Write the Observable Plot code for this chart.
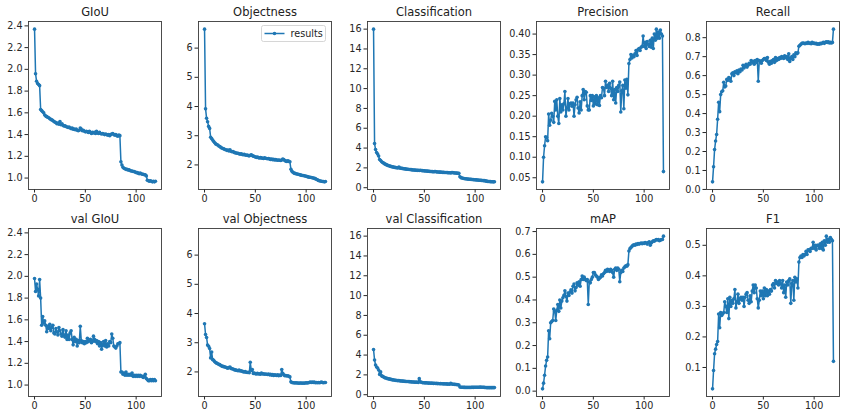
<!DOCTYPE html>
<html><head><meta charset="utf-8">
<script src="https://cdn.jsdelivr.net/npm/d3@7"></script>
<script src="https://cdn.jsdelivr.net/npm/@observablehq/plot@0.6"></script>
<style>
body{margin:0;background:#fff;}
#fig{position:relative;width:851px;height:418px;overflow:hidden;font-family:"DejaVu Sans",sans-serif;background:#fff;}
#fig svg{position:absolute;}
</style></head><body><div id="fig"></div>
<script>
const giou=[2.37,1.96,1.89,1.87,1.86,1.85,1.63,1.62,1.61,1.60,
 1.58,1.57,1.565,1.56,1.555,1.545,1.54,1.535,1.53,1.52,
 1.515,1.51,1.50,1.505,1.495,1.52,1.49,1.50,1.485,1.48,
 1.48,1.475,1.47,1.465,1.47,1.46,1.455,1.46,1.45,1.45,
 1.445,1.45,1.44,1.435,1.44,1.46,1.45,1.435,1.44,1.43,
 1.425,1.43,1.425,1.42,1.43,1.42,1.41,1.42,1.415,1.42,
 1.41,1.43,1.415,1.41,1.42,1.41,1.405,1.41,1.405,1.40,
 1.405,1.40,1.395,1.40,1.39,1.40,1.405,1.41,1.40,1.395,
 1.40,1.39,1.385,1.395,1.39,1.15,1.12,1.10,1.09,1.085,
 1.08,1.08,1.075,1.075,1.07,1.065,1.065,1.06,1.06,1.055,
 1.05,1.05,1.045,1.04,1.045,1.04,1.035,1.035,1.03,1.03,
 1.02,0.98,0.975,0.97,0.975,0.97,0.965,0.97,0.965,0.97];
const valGiou=[1.98,1.86,1.93,1.88,1.82,1.97,1.80,1.55,1.63,1.57,
 1.59,1.55,1.49,1.54,1.52,1.56,1.50,1.53,1.55,1.48,
 1.47,1.52,1.49,1.46,1.53,1.50,1.47,1.45,1.51,1.46,
 1.44,1.50,1.42,1.46,1.42,1.48,1.50,1.42,1.37,1.44,
 1.40,1.42,1.36,1.41,1.39,1.54,1.41,1.39,1.40,1.38,
 1.40,1.39,1.43,1.40,1.41,1.42,1.39,1.40,1.45,1.42,
 1.40,1.41,1.38,1.40,1.36,1.39,1.33,1.37,1.40,1.36,
 1.41,1.35,1.38,1.36,1.40,1.39,1.47,1.43,1.36,1.35,
 1.34,1.36,1.38,1.38,1.39,1.12,1.12,1.10,1.11,1.09,
 1.12,1.09,1.10,1.09,1.10,1.09,1.11,1.08,1.09,1.08,
 1.09,1.08,1.09,1.08,1.09,1.08,1.08,1.07,1.08,1.10,
 1.06,1.05,1.04,1.04,1.05,1.04,1.05,1.04,1.05,1.04];
const objectness=[6.65,3.92,3.60,3.48,3.32,3.25,2.95,2.90,2.85,2.80,
 2.76,2.72,2.70,2.68,2.65,2.63,2.60,2.58,2.56,2.55,
 2.53,2.52,2.50,2.51,2.48,2.52,2.47,2.45,2.46,2.43,
 2.42,2.41,2.40,2.40,2.38,2.37,2.38,2.36,2.35,2.36,
 2.34,2.33,2.34,2.32,2.31,2.33,2.35,2.32,2.30,2.29,
 2.27,2.26,2.27,2.25,2.24,2.25,2.24,2.23,2.22,2.24,
 2.23,2.22,2.21,2.22,2.20,2.19,2.20,2.18,2.19,2.17,
 2.18,2.17,2.16,2.17,2.16,2.15,2.17,2.20,2.18,2.15,
 2.13,2.12,2.14,2.12,2.11,1.85,1.78,1.75,1.72,1.71,
 1.70,1.69,1.68,1.67,1.66,1.65,1.64,1.64,1.63,1.62,
 1.61,1.60,1.59,1.58,1.58,1.57,1.56,1.55,1.54,1.53,
 1.51,1.49,1.47,1.46,1.45,1.44,1.43,1.43,1.42,1.43];
const valObjectness=[3.65,3.28,3.18,2.92,2.88,2.80,2.48,2.68,2.42,2.40,
 2.35,2.32,2.30,2.28,2.26,2.25,2.22,2.20,2.19,2.18,
 2.17,2.16,2.14,2.13,2.15,2.17,2.12,2.11,2.10,2.08,
 2.07,2.06,2.05,2.04,2.06,2.03,2.04,2.02,2.01,2.00,
 2.01,1.99,1.98,1.99,1.97,2.33,2.05,2.08,1.95,1.96,
 1.94,1.93,1.95,1.93,1.94,1.92,1.96,1.93,1.94,1.92,
 1.93,1.92,1.91,1.93,1.90,1.92,1.89,1.91,1.88,1.90,
 1.89,1.88,1.90,1.87,1.89,1.88,2.08,1.95,1.90,1.87,
 1.88,1.86,1.87,1.85,1.83,1.66,1.64,1.63,1.63,1.62,
 1.63,1.62,1.62,1.61,1.62,1.62,1.61,1.62,1.61,1.62,
 1.63,1.62,1.63,1.64,1.65,1.64,1.65,1.64,1.65,1.63,
 1.64,1.63,1.64,1.63,1.64,1.65,1.64,1.63,1.64,1.64];
const classification=[16.0,4.45,3.85,3.55,3.40,3.20,2.85,2.75,2.62,2.55,
 2.48,2.40,2.35,2.30,2.25,2.22,2.18,2.15,2.12,2.10,
 2.07,2.05,2.03,2.01,2.00,2.08,1.98,1.96,1.95,1.93,
 1.92,1.90,1.88,1.87,1.86,1.84,1.83,1.82,1.80,1.79,
 1.78,1.77,1.76,1.75,1.76,1.74,1.76,1.73,1.72,1.71,
 1.70,1.69,1.68,1.67,1.66,1.65,1.64,1.63,1.62,1.61,
 1.62,1.63,1.60,1.59,1.58,1.57,1.57,1.56,1.55,1.55,
 1.54,1.53,1.53,1.52,1.51,1.51,1.50,1.52,1.53,1.50,
 1.49,1.48,1.47,1.46,1.45,1.10,1.02,0.98,0.95,0.93,
 0.91,0.90,0.88,0.87,0.86,0.85,0.84,0.83,0.82,0.81,
 0.80,0.79,0.78,0.77,0.76,0.75,0.74,0.73,0.72,0.71,
 0.69,0.66,0.64,0.63,0.62,0.61,0.60,0.60,0.59,0.60];
const valClassification=[4.55,3.50,3.00,2.80,2.70,2.50,2.05,2.30,1.90,1.85,
 1.78,1.72,1.68,1.65,1.62,1.60,1.57,1.55,1.52,1.50,
 1.48,1.46,1.45,1.43,1.42,1.44,1.40,1.39,1.38,1.37,
 1.36,1.35,1.34,1.33,1.34,1.32,1.31,1.30,1.29,1.28,
 1.27,1.26,1.27,1.25,1.24,1.62,1.30,1.26,1.22,1.21,
 1.20,1.19,1.20,1.18,1.17,1.18,1.16,1.17,1.15,1.14,
 1.15,1.13,1.14,1.12,1.13,1.11,1.12,1.10,1.11,1.09,
 1.10,1.08,1.09,1.07,1.08,1.06,1.15,1.08,1.05,1.06,
 1.04,1.03,1.02,1.00,0.98,0.78,0.76,0.75,0.75,0.74,
 0.74,0.73,0.74,0.73,0.74,0.73,0.74,0.75,0.74,0.75,
 0.76,0.75,0.76,0.75,0.76,0.77,0.76,0.75,0.76,0.74,
 0.73,0.72,0.72,0.71,0.72,0.71,0.72,0.71,0.72,0.72];
const precision=[0.04,0.10,0.128,0.15,0.148,0.14,0.205,0.178,0.19,0.207,
 0.20,0.185,0.236,0.215,0.24,0.20,0.182,0.243,0.21,0.228,
 0.215,0.23,0.26,0.20,0.22,0.243,0.215,0.23,0.232,0.224,
 0.232,0.20,0.228,0.24,0.246,0.22,0.208,0.235,0.215,0.25,
 0.265,0.24,0.26,0.258,0.225,0.215,0.215,0.25,0.238,0.25,
 0.225,0.247,0.23,0.25,0.228,0.245,0.226,0.25,0.245,0.27,
 0.268,0.25,0.285,0.27,0.275,0.26,0.28,0.268,0.25,0.285,
 0.24,0.265,0.232,0.27,0.26,0.275,0.283,0.21,0.262,0.275,
 0.218,0.288,0.268,0.29,0.252,0.328,0.338,0.35,0.342,0.348,
 0.345,0.352,0.36,0.348,0.362,0.365,0.36,0.368,0.37,0.395,
 0.37,0.38,0.365,0.382,0.375,0.37,0.385,0.368,0.39,0.365,
 0.40,0.385,0.412,0.39,0.405,0.39,0.41,0.40,0.395,0.065];
const recall=[0.04,0.12,0.21,0.255,0.29,0.37,0.46,0.41,0.50,0.515,
 0.52,0.565,0.54,0.545,0.58,0.575,0.59,0.585,0.57,0.61,
 0.615,0.60,0.62,0.615,0.625,0.61,0.63,0.62,0.635,0.63,
 0.655,0.64,0.65,0.66,0.645,0.655,0.665,0.66,0.68,0.67,
 0.675,0.66,0.68,0.67,0.685,0.57,0.68,0.675,0.665,0.68,
 0.685,0.69,0.69,0.68,0.695,0.67,0.66,0.675,0.665,0.68,
 0.685,0.67,0.695,0.68,0.69,0.685,0.695,0.69,0.70,0.695,
 0.69,0.705,0.695,0.70,0.685,0.715,0.675,0.69,0.70,0.685,
 0.71,0.70,0.72,0.715,0.72,0.755,0.76,0.765,0.77,0.772,
 0.77,0.768,0.772,0.77,0.775,0.77,0.772,0.768,0.775,0.77,
 0.772,0.768,0.77,0.765,0.768,0.765,0.77,0.768,0.772,0.775,
 0.77,0.775,0.778,0.775,0.778,0.772,0.775,0.772,0.775,0.845];
const mAP=[0.01,0.035,0.07,0.11,0.135,0.15,0.265,0.23,0.30,0.305,
 0.31,0.36,0.35,0.31,0.355,0.38,0.35,0.40,0.365,0.395,
 0.41,0.42,0.44,0.415,0.395,0.43,0.42,0.435,0.445,0.43,
 0.46,0.47,0.44,0.455,0.475,0.465,0.48,0.46,0.49,0.505,
 0.49,0.50,0.49,0.485,0.49,0.38,0.48,0.475,0.49,0.50,
 0.52,0.52,0.51,0.505,0.50,0.49,0.495,0.50,0.51,0.505,
 0.515,0.52,0.53,0.525,0.535,0.53,0.525,0.535,0.53,0.52,
 0.50,0.535,0.54,0.53,0.54,0.535,0.48,0.52,0.53,0.525,
 0.54,0.545,0.55,0.548,0.555,0.615,0.625,0.63,0.635,0.64,
 0.642,0.64,0.645,0.643,0.648,0.645,0.648,0.65,0.647,0.65,
 0.648,0.652,0.65,0.645,0.652,0.655,0.64,0.65,0.655,0.66,
 0.658,0.662,0.665,0.663,0.665,0.66,0.662,0.665,0.665,0.68];
const f1=[0.03,0.09,0.145,0.16,0.175,0.185,0.275,0.23,0.28,0.27,
 0.275,0.28,0.315,0.30,0.28,0.325,0.26,0.33,0.30,0.32,
 0.31,0.325,0.355,0.295,0.315,0.34,0.31,0.325,0.33,0.32,
 0.33,0.30,0.33,0.34,0.345,0.32,0.31,0.335,0.315,0.35,
 0.37,0.345,0.37,0.36,0.325,0.295,0.32,0.35,0.335,0.35,
 0.325,0.36,0.335,0.355,0.335,0.35,0.34,0.355,0.35,0.37,
 0.375,0.36,0.385,0.375,0.38,0.37,0.385,0.375,0.36,0.385,
 0.345,0.37,0.33,0.38,0.37,0.385,0.39,0.31,0.375,0.385,
 0.32,0.395,0.38,0.39,0.36,0.445,0.46,0.465,0.46,0.47,
 0.465,0.47,0.48,0.47,0.485,0.485,0.48,0.49,0.49,0.51,
 0.49,0.50,0.485,0.50,0.50,0.49,0.505,0.49,0.51,0.485,
 0.515,0.50,0.53,0.51,0.52,0.51,0.525,0.52,0.515,0.12];

const titles=["GIoU","Objectness","Classification","Precision","Recall",
              "val GIoU","val Objectness","val Classification","mAP","F1"];
const xTicks=[0,50,100];
const yTicksGiou=[1.0,1.2,1.4,1.6,1.8,2.0,2.2,2.4];
const yTicksObj=[2,3,4,5,6];
const yTicksCls=[0,2,4,6,8,10,12,14,16];
const yTicksPrec=[0.05,0.10,0.15,0.20,0.25,0.30,0.35,0.40];
const yTicksRecall=[0,0.1,0.2,0.3,0.4,0.5,0.6,0.7,0.8];
const yTicksMap=[0,0.1,0.2,0.3,0.4,0.5,0.6,0.7];
const yTicksF1=[0.1,0.2,0.3,0.4,0.5];
const legendLabel="results";

const panels=[
 {t:0,v:giou,share:valGiou,ticks:yTicksGiou,fmt:".1f"},
 {t:1,v:objectness,share:valObjectness,ticks:yTicksObj,fmt:"d",legend:true},
 {t:2,v:classification,share:valClassification,ticks:yTicksCls,fmt:"d"},
 {t:3,v:precision,share:null,ticks:yTicksPrec,fmt:".2f"},
 {t:4,v:recall,share:null,ticks:yTicksRecall,fmt:".1f"},
 {t:5,v:valGiou,share:giou,ticks:yTicksGiou,fmt:".1f"},
 {t:6,v:valObjectness,share:objectness,ticks:yTicksObj,fmt:"d"},
 {t:7,v:valClassification,share:classification,ticks:yTicksCls,fmt:"d"},
 {t:8,v:mAP,share:null,ticks:yTicksMap,fmt:".1f"},
 {t:9,v:f1,share:null,ticks:yTicksF1,fmt:".1f"}
];

const frameLefts=[28,198,367,536,706];
const frameTops=[20.5,228];
const frameW=133, frameH=168;
const mL=34,mR=6,mT=22,mB=22;
const blue="#1f77b4";
const fig=document.getElementById("fig");

panels.forEach((p,k)=>{
  const col=k%5,row=Math.floor(k/5);
  const all=p.share?p.v.concat(p.share):p.v;
  const [lo,hi]=d3.extent(all); const pad=(hi-lo)*0.05;
  const data=p.v.map((v,i)=>({epoch:i,value:v}));
  const [x0,x1]=d3.extent(data,d=>d.epoch); const xp=(x1-x0)*0.05;
  const svg=Plot.plot({
    width:mL+frameW+mR, height:mT+frameH+mB,
    marginLeft:mL,marginRight:mR,marginTop:mT,marginBottom:mB,
    style:{fontFamily:"DejaVu Sans, sans-serif",fontSize:"9.6px",color:"#262626",background:"transparent",overflow:"visible"},
    x:{domain:[x0-xp,x1+xp],ticks:xTicks,tickSize:3.5,tickPadding:2.5,label:null,tickFormat:d3.format("d")},
    y:{domain:[lo-pad,hi+pad],ticks:p.ticks,tickFormat:d3.format(p.fmt),tickSize:3.5,tickPadding:2.5,label:null},
    marks:[
      Plot.line(data,{x:"epoch",y:"value",stroke:blue,strokeWidth:1.5}),
      Plot.dot(data,{x:"epoch",y:"value",fill:blue,stroke:"none",r:1.8}),
      Plot.frame({stroke:"#3a3a3a",strokeWidth:0.9}),
      Plot.text([titles[p.t]],{frameAnchor:"top",dy:-9,fontSize:11.5,fill:"#222",lineAnchor:"middle"})
    ]
  });
  svg.style.left=(frameLefts[col]-mL)+"px";
  svg.style.top=(frameTops[row]-mT)+"px";
  fig.appendChild(svg);
  if(p.legend){
    const s=d3.select(svg);
    const bw=64,bh=16;
    const bx=mL+frameW-5.5-bw, by=mT+4.5;
    const g=s.append("g");
    g.append("rect").attr("x",bx).attr("y",by).attr("width",bw).attr("height",bh)
      .attr("rx",2).attr("fill","#fff").attr("fill-opacity",0.85).attr("stroke","#cccccc").attr("stroke-width",0.8);
    g.append("line").attr("x1",bx+3).attr("x2",bx+23).attr("y1",by+bh/2).attr("y2",by+bh/2)
      .attr("stroke",blue).attr("stroke-width",1.5);
    g.append("circle").attr("cx",bx+13).attr("cy",by+bh/2).attr("r",1.8).attr("fill",blue);
    g.append("text").attr("x",bx+29).attr("y",by+bh/2).attr("dy","0.35em")
      .attr("text-anchor","start").attr("font-size",9.6).attr("fill","#222").text(legendLabel);
  }
});
</script></body></html>
